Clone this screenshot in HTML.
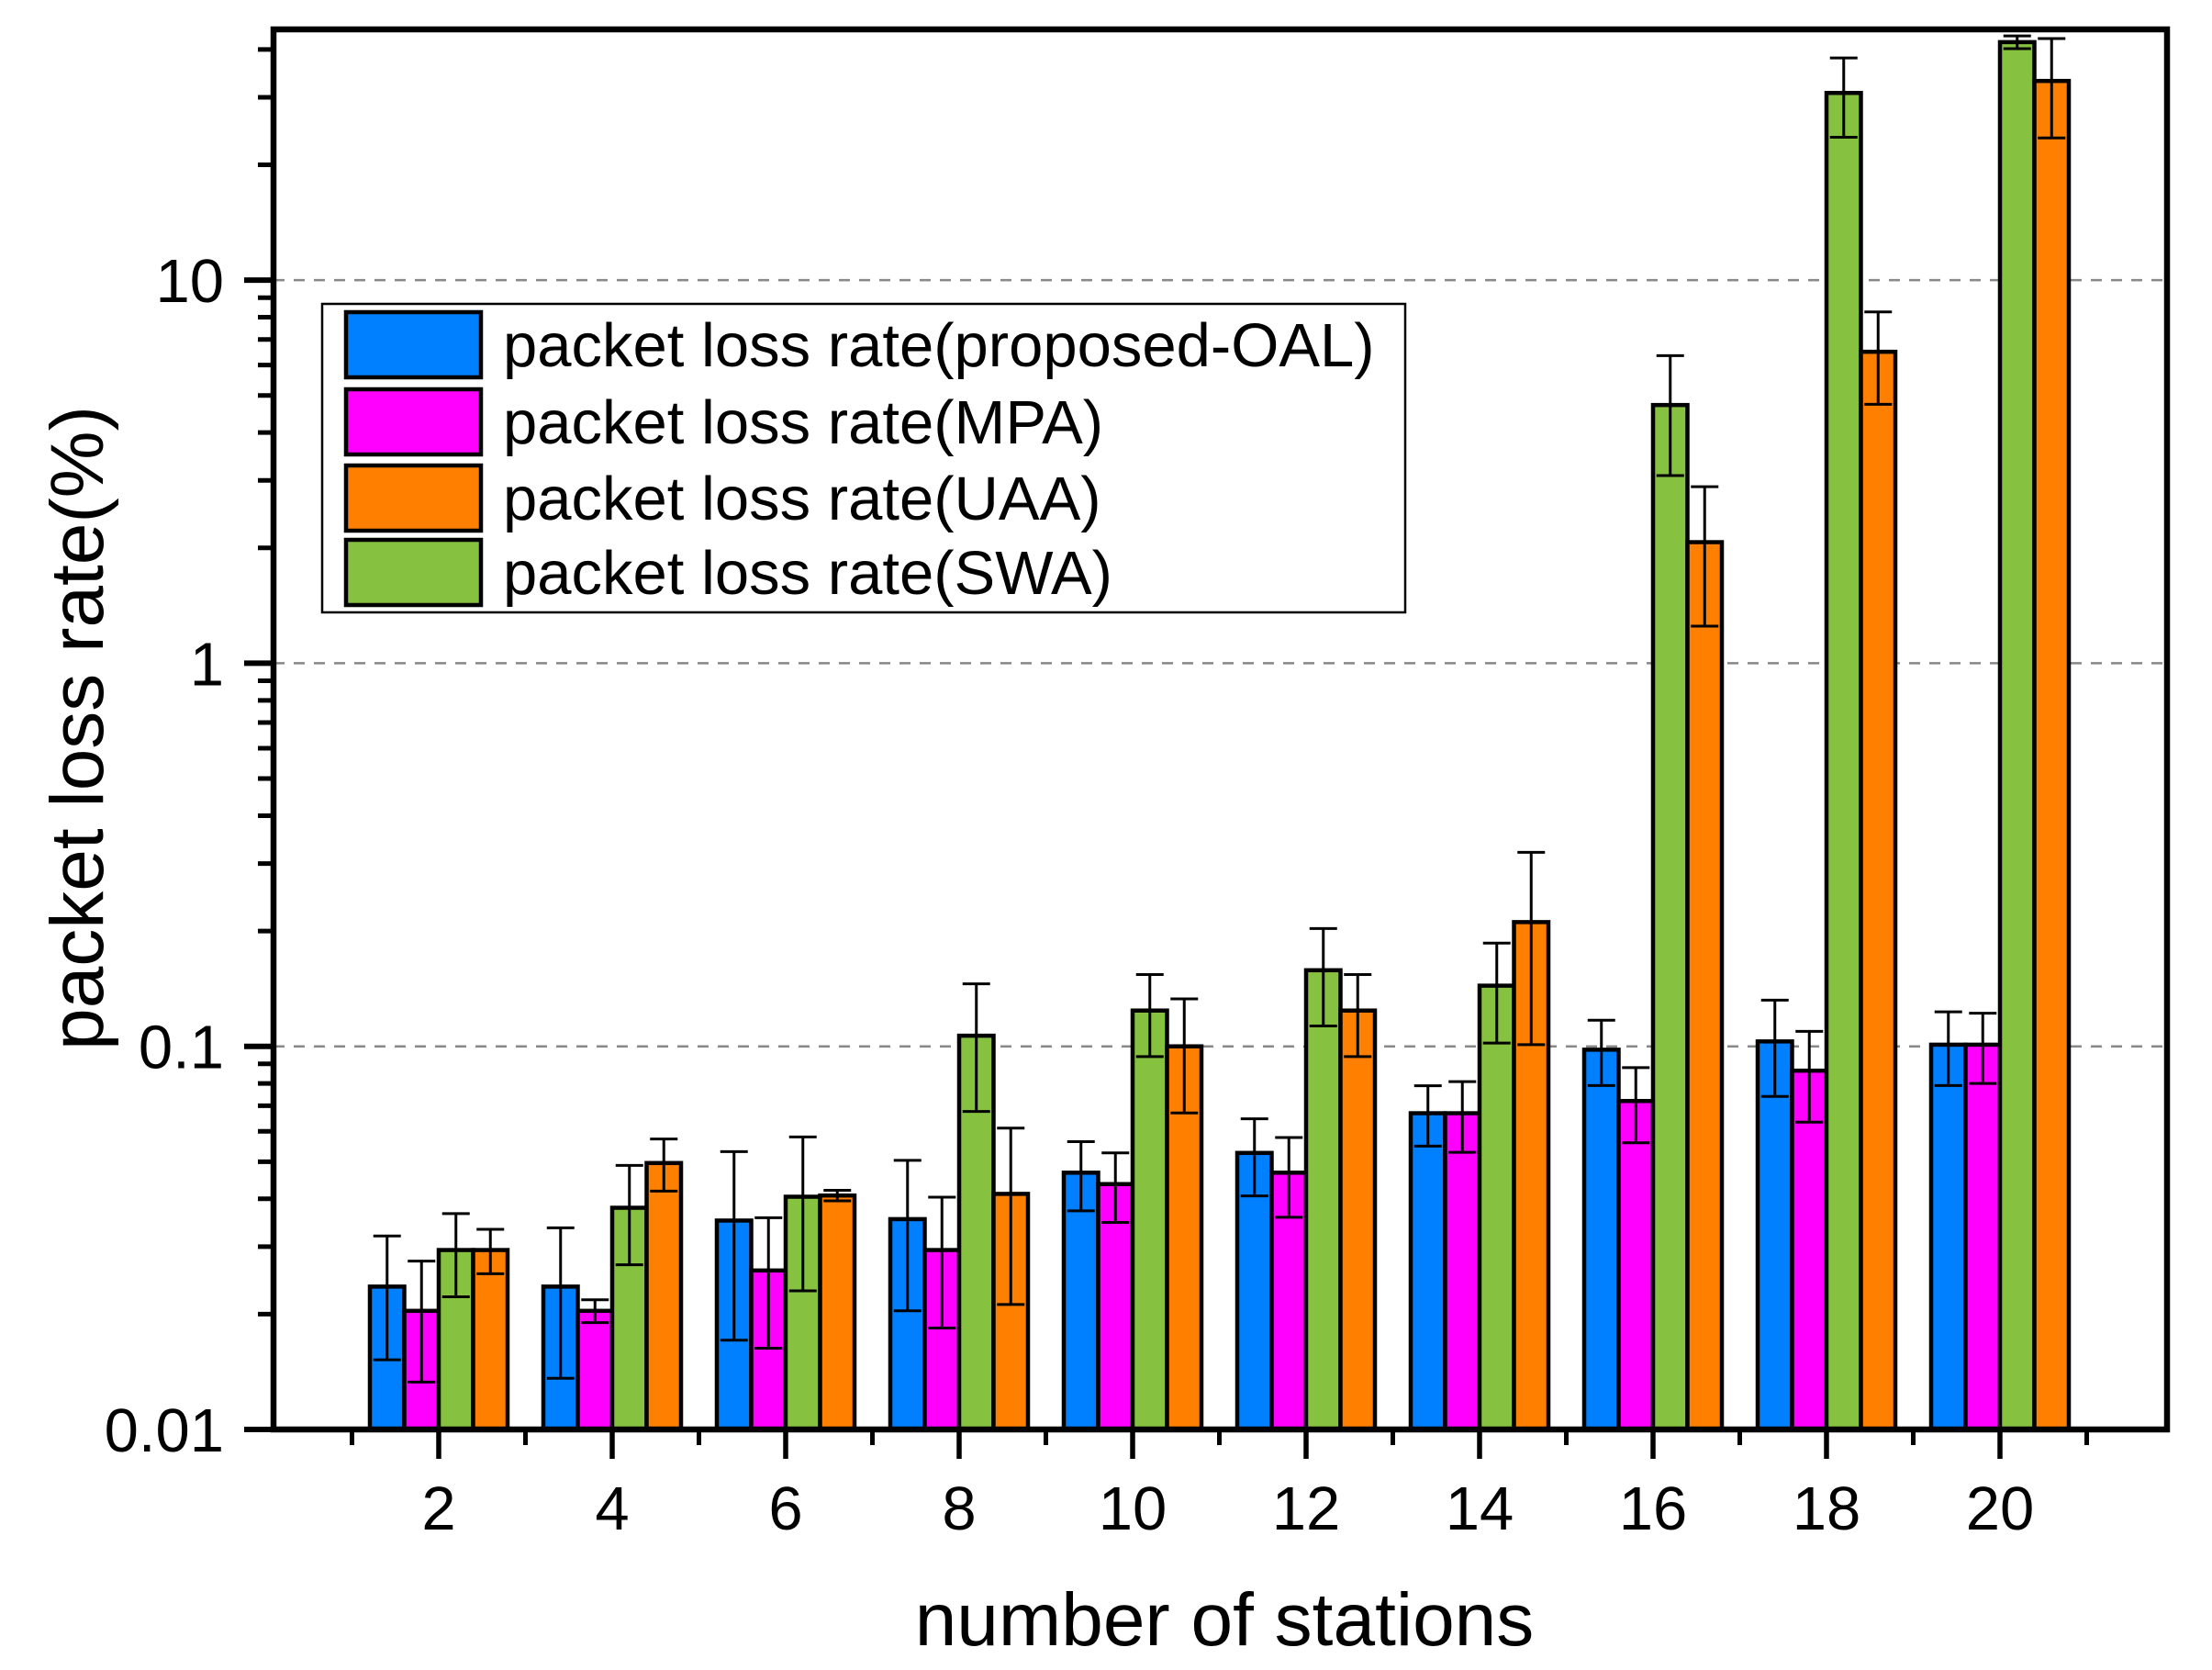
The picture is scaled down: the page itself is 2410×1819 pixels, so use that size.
<!DOCTYPE html>
<html><head><meta charset="utf-8"><style>
html,body{margin:0;padding:0;background:#fff;}
svg{display:block;font-family:"Liberation Sans",Arial,sans-serif;}
</style></head><body>
<svg id="chart" width="2410" height="1819" viewBox="0 0 2410 1819" xmlns="http://www.w3.org/2000/svg">
<g id="grid"></g>
<g id="bars"></g>
<g id="axes"></g>
<g id="legend"></g>
<text x="1334" y="1792" font-size="82" text-anchor="middle">number of stations</text>
<text x="0" y="0" font-size="82" text-anchor="middle" transform="translate(112,793) rotate(-90)">packet loss rate(%)</text>
</svg>
<script>
const categories = [2,4,6,8,10,12,14,16,18,20];
const seriesNames = ["packet loss rate(proposed-OAL)","packet loss rate(MPA)","packet loss rate(UAA)","packet loss rate(SWA)"];
const oalValues = [0.0236,0.0236,0.0351,0.0354,0.0468,0.0527,0.0669,0.098,0.103,0.101];
const oalErrors = [0.0084,0.010,0.018,0.015,0.0096,0.012,0.012,0.019,0.029,0.022];
const mpaValues = [0.0204,0.0204,0.026,0.0294,0.0437,0.0468,0.0669,0.072,0.0864,0.101];
const mpaErrors = [0.0071,0.0014,0.0097,0.011,0.009,0.011,0.014,0.016,0.023,0.021];
const swaValues = [0.0294,0.0379,0.0405,0.1066,0.124,0.158,0.144,4.72,30.8,41.8];
const swaErrors = [0.0072,0.011,0.0175,0.039,0.03,0.045,0.042,1.63,7.2,1.6];
const uaaValues = [0.0294,0.0496,0.0408,0.0412,0.1,0.124,0.211,2.07,6.5,33.1];
const uaaErrors = [0.0039,0.0077,0.0013,0.02,0.033,0.03,0.11,0.82,1.76,9.6];
const yTicks = [0.01,0.1,1,10];
const yTickLabels = ["0.01","0.1","1","10"];
const xTickLabels = ["2","4","6","8","10","12","14","16","18","20"];

const NS="http://www.w3.org/2000/svg";
const L=298,R=2361,T=32,B=1557;
const decade=417.3;
function yScale(v){return B-(Math.log10(v)+2)*decade;}
function xScale(n){return 478+94.5*(n-2);}
const BW=37.5;
function mk(tag,attrs,parent){const e=document.createElementNS(NS,tag);for(const k in attrs)e.setAttribute(k,attrs[k]);parent.appendChild(e);return e;}
const grid=document.getElementById('grid'),bars=document.getElementById('bars'),axes=document.getElementById('axes'),legend=document.getElementById('legend');

[0.1,1,10].forEach(v=>{
  const g=mk('line',{x1:L,x2:R,y1:yScale(v),y2:yScale(v),stroke:'#888','stroke-width':2.5,'stroke-dasharray':'12,10'},grid);
  
  
});

const groups=[
 {vals:oalValues,errs:oalErrors,color:'#0080ff',name:'oal',off:-2},
 {vals:mpaValues,errs:mpaErrors,color:'#ff00ff',name:'mpa',off:-1},
 {vals:swaValues,errs:swaErrors,color:'#86c240',name:'swa',off:0},
 {vals:uaaValues,errs:uaaErrors,color:'#ff8000',name:'uaa',off:1}
];
groups.forEach(s=>{
  categories.forEach((c,i)=>{
    const x=xScale(c)+s.off*BW, y=yScale(s.vals[i]);
    const r=mk('rect',{x:x,y:y,width:BW,height:B-y,fill:s.color,stroke:'#000','stroke-width':4.5},bars);
    
    
    const cx=x+BW/2, yu=yScale(s.vals[i]+s.errs[i]), yl=yScale(Math.max(s.vals[i]-s.errs[i],0.0101));
    const eb=mk('path',{d:`M${cx},${yu}V${yl}M${cx-15},${yu}H${cx+15}M${cx-15},${yl}H${cx+15}`,stroke:'#000','stroke-width':3,fill:'none'},bars);
    
    
  });
});

const frame=mk('rect',{x:L,y:T,width:R-L,height:B-T,fill:'none',stroke:'#000','stroke-width':6.5},axes);


yTicks.forEach((v,i)=>{
  const y=yScale(v);
  mk('line',{x1:L-32,x2:L,y1:y,y2:y,stroke:'#000','stroke-width':6},axes);
  const t=mk('text',{x:244,y:y+24,'font-size':67,'text-anchor':'end'},axes);
  t.textContent=yTickLabels[i];
  
  
});
for(let d=-2;d<1.66;d++){for(let k=2;k<10;k++){const v=k*Math.pow(10,d);if(v>45)break;const y=yScale(v);mk('line',{x1:L-17,x2:L,y1:y,y2:y,stroke:'#000','stroke-width':5},axes);}}
categories.forEach((c,i)=>{
  const x=xScale(c);
  mk('line',{x1:x,x2:x,y1:B,y2:B+32,stroke:'#000','stroke-width':5.5},axes);
  mk('line',{x1:x-94.5,x2:x-94.5,y1:B,y2:B+17,stroke:'#000','stroke-width':5},axes);
  const t=mk('text',{x:x,y:1666,'font-size':67,'text-anchor':'middle'},axes);
  t.textContent=xTickLabels[i];
  
  
});
mk('line',{x1:xScale(21),x2:xScale(21),y1:B,y2:B+17,stroke:'#000','stroke-width':5},axes);

const lb=mk('rect',{x:351,y:331,width:1180,height:336,fill:'#fff',stroke:'#000','stroke-width':2.5},legend);


const legColors=['#0080ff','#ff00ff','#ff8000','#86c240'];
const legNames=[seriesNames[0],seriesNames[1],seriesNames[2],seriesNames[3]];
[340,424,507,588].forEach((y,i)=>{
  const sw=mk('rect',{x:377,y:y,width:147,height:71,fill:legColors[i],stroke:'#000','stroke-width':4.5},legend);
  
  
  const t=mk('text',{x:548,y:y+59,'font-size':67},legend);
  t.textContent=legNames[i];
  
  
});
</script>
</body></html>
